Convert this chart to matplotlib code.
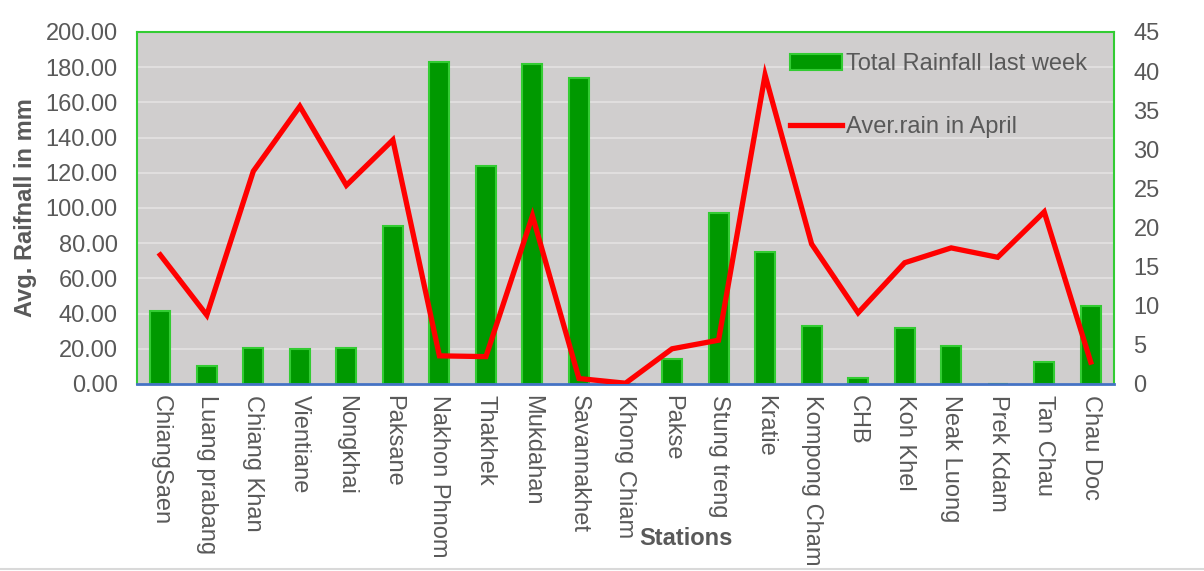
import matplotlib.pyplot as plt
from matplotlib.ticker import FormatStrFormatter

stations = ['ChiangSaen', 'Luang prabang', 'Chiang Khan', 'Vientiane', 'Nongkhai',
            'Paksane', 'Nakhon Phnom', 'Thakhek', 'Mukdahan', 'Savannakhet',
            'Khong Chiam', 'Pakse', 'Stung treng', 'Kratie', 'Kompong Cham',
            'CHB', 'Koh Khel', 'Neak Luong', 'Prek Kdam', 'Tan Chau', 'Chau Doc']
total_last_week = [41.5, 10.2, 20.5, 19.9, 20.5, 89.8, 183.0, 123.9, 181.8, 173.9,
                   0.0, 14.0, 97.0, 75.0, 33.0, 3.5, 32.0, 21.5, 0.0, 12.5, 44.5]
aver_april = [16.5, 8.8, 27.2, 35.5, 25.4, 31.2, 3.6, 3.5, 21.5, 0.7,
              0.1, 4.5, 5.6, 39.5, 17.9, 9.1, 15.5, 17.4, 16.2, 22.0, 2.8]

plt.rcParams['font.family'] = ['Liberation Sans', 'DejaVu Sans']
grey_txt = '#595959'
fs = 17

fig = plt.figure(figsize=(12.04, 5.71), dpi=100)
ax = fig.add_axes([137/1204, 1 - 384/571, 977/1204, 352/571])
ax.set_facecolor('#d0cece')

x = range(len(stations))
bars = ax.bar(x, total_last_week, width=0.43, color='#009900', edgecolor='#33cc33',
              linewidth=1.5, zorder=3, label='Total Rainfall last week')
ax.set_xlim(-0.5, len(stations) - 0.5)
ax.set_ylim(0, 200)
ax.set_yticks(range(0, 201, 20))
ax.yaxis.set_major_formatter(FormatStrFormatter('%.2f'))
ax.grid(axis='y', color='#e4e2e2', linewidth=1.2, zorder=0)
ax.set_axisbelow(True)
ax.set_xticks(list(x))
ax.set_xticklabels(stations, rotation=-90, ha='center', va='top')
ax.tick_params(length=0, labelsize=fs, labelcolor=grey_txt)
ax.tick_params(axis='x', pad=8)
ax.tick_params(axis='y', pad=14)

for side in ['left', 'top', 'right']:
    ax.spines[side].set_color('#33cc33')
    ax.spines[side].set_linewidth(1.5)
ax.spines['bottom'].set_color('#4472c4')
ax.spines['bottom'].set_linewidth(2)
ax.spines['bottom'].set_zorder(5)

ax.set_ylabel('Avg. Raifnall in mm', fontsize=fs, fontweight='bold', color=grey_txt)
ax.yaxis.set_label_coords(-0.102, 0.5)
ax.set_xlabel('Stations', fontsize=fs, fontweight='bold', color=grey_txt)
ax.xaxis.set_label_coords(0.562, -0.405)

ax2 = ax.twinx()
line, = ax2.plot(x, aver_april, color='#ff0000', linewidth=3.8,
                 solid_joinstyle='miter', label='Aver.rain in April')
ax2.set_ylim(0, 45)
ax2.set_yticks(range(0, 46, 5))
ax2.tick_params(length=0, labelsize=fs, labelcolor=grey_txt, pad=14)
for s in ax2.spines.values():
    s.set_visible(False)

leg = ax2.legend([bars, line], ['Total Rainfall last week', 'Aver.rain in April'],
                 loc='upper left', bbox_to_anchor=(0.668, 0.94), frameon=False,
                 fontsize=fs, labelcolor=grey_txt, handlelength=2.2,
                 handletextpad=0.2, labelspacing=1.75, borderpad=0, borderaxespad=0)

fig.add_artist(plt.Line2D([0, 1], [2/571, 2/571], color='#d9d9d9', linewidth=1.5))

fig.savefig('out.png', dpi=100)
